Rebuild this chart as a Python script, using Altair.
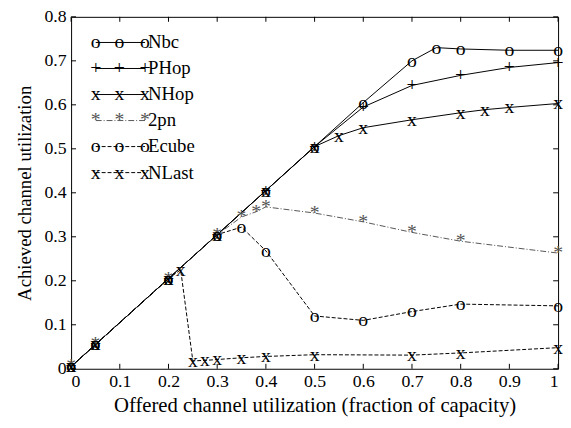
import altair as alt
import pandas as pd

# ---------------- data ----------------
nbc_x = [0, 0.05, 0.2, 0.3, 0.4, 0.5, 0.6, 0.7, 0.75, 0.8, 0.9, 1.0]
nbc_y = [0.005, 0.055, 0.205, 0.305, 0.405, 0.505, 0.605, 0.700, 0.730, 0.727, 0.724, 0.724]

phop_x = [0, 0.05, 0.2, 0.3, 0.4, 0.5, 0.6, 0.7, 0.8, 0.9, 1.0]
phop_y = [0.005, 0.055, 0.205, 0.305, 0.405, 0.505, 0.595, 0.644, 0.667, 0.685, 0.696]

nhop_x = [0, 0.05, 0.2, 0.3, 0.4, 0.5, 0.55, 0.6, 0.7, 0.8, 0.85, 0.9, 1.0]
nhop_y = [0.005, 0.055, 0.205, 0.305, 0.405, 0.505, 0.530, 0.548, 0.566, 0.582, 0.589, 0.594, 0.603]

twopn_x = [0, 0.05, 0.2, 0.3, 0.35, 0.38, 0.4, 0.5, 0.6, 0.7, 0.8, 1.0]
twopn_y = [0.005, 0.055, 0.205, 0.305, 0.345, 0.357, 0.368, 0.354, 0.334, 0.310, 0.290, 0.263]

ecube_x = [0, 0.05, 0.2, 0.3, 0.35, 0.4, 0.5, 0.6, 0.7, 0.8, 1.0]
ecube_y = [0.005, 0.055, 0.205, 0.305, 0.322, 0.268, 0.120, 0.110, 0.130, 0.147, 0.143]

nlast_x = [0, 0.05, 0.2, 0.225, 0.25, 0.275, 0.3, 0.35, 0.4, 0.5, 0.7, 0.8, 1.0]
nlast_y = [0.005, 0.055, 0.205, 0.225, 0.018, 0.019, 0.021, 0.025, 0.028, 0.032, 0.031, 0.036, 0.048]

series_names = ["Nbc", "PHop", "NHop", "2pn", "Ecube", "NLast"]
series_x = [nbc_x, phop_x, nhop_x, twopn_x, ecube_x, nlast_x]
series_y = [nbc_y, phop_y, nhop_y, twopn_y, ecube_y, nlast_y]

x_ticks = [0, 0.1, 0.2, 0.3, 0.4, 0.5, 0.6, 0.7, 0.8, 0.9, 1.0]
y_ticks = [0, 0.1, 0.2, 0.3, 0.4, 0.5, 0.6, 0.7, 0.8]

x_title = "Offered channel utilization (fraction of capacity)"
y_title = "Achieved channel utilization"

# ---------------- styles ----------------
glyphs = {"Nbc": "o", "PHop": "+", "NHop": "x", "2pn": "*", "Ecube": "o", "NLast": "x"}
colors = {"Nbc": "#000", "PHop": "#000", "NHop": "#000", "2pn": "#555", "Ecube": "#000", "NLast": "#000"}
dashes = {"Nbc": None, "PHop": None, "NHop": None, "2pn": [6, 2, 1, 2], "Ecube": [4, 2], "NLast": [4, 2]}

W, H = 494, 357
FONT = "Liberation Serif"
GS = 20  # glyph font size

xscale = alt.Scale(domain=[0, 1], nice=False, zero=False)
yscale = alt.Scale(domain=[0, 0.8], nice=False, zero=False)
xaxis = alt.Axis(values=x_ticks, format="~g", ticks=False, domain=False, grid=False,
                 labelPadding=4, title=x_title, titlePadding=4, titleFontSize=21)
yaxis = alt.Axis(values=y_ticks, format="~g", ticks=False, domain=False, grid=False,
                 labelPadding=5, title=y_title, titlePadding=10, titleFontSize=19)

def X(f):
    return alt.X(f, type="quantitative", scale=xscale, axis=xaxis)

def Y(f):
    return alt.Y(f, type="quantitative", scale=yscale, axis=yaxis)

layers = []

# inward ticks
xt = pd.DataFrame({"v": x_ticks})
yt = pd.DataFrame({"v": y_ticks})
TL = 5
layers.append(alt.Chart(xt).mark_rule(color="#000", strokeWidth=1).encode(
    x=X("v"), y=alt.value(H), y2=alt.value(H - TL)))
layers.append(alt.Chart(xt).mark_rule(color="#000", strokeWidth=1).encode(
    x=X("v"), y=alt.value(0), y2=alt.value(TL)))
layers.append(alt.Chart(yt).mark_rule(color="#000", strokeWidth=1).encode(
    y=Y("v"), x=alt.value(0), x2=alt.value(TL)))
layers.append(alt.Chart(yt).mark_rule(color="#000", strokeWidth=1).encode(
    y=Y("v"), x=alt.value(W), x2=alt.value(W - TL)))

# series
for name, xs, ys in zip(series_names, series_x, series_y):
    df = pd.DataFrame({"x": xs, "y": ys, "o": list(range(len(xs)))})
    lk = dict(color=colors[name], strokeWidth=1)
    if dashes[name]:
        lk["strokeDash"] = dashes[name]
    layers.append(alt.Chart(df).mark_line(**lk).encode(x=X("x"), y=Y("y"), order="o:Q"))
    layers.append(alt.Chart(df).mark_text(text=glyphs[name], font=FONT, fontSize=GS,
                                          align="center", baseline="middle",
                                          color=colors[name]).encode(x=X("x"), y=Y("y")))

# legend (top-left inside plot)
one = pd.DataFrame({"a": [0]})
LX = [25, 49, 75]
for i, name in enumerate(series_names):
    py = 26 + 26.4 * i
    lk = dict(color=colors[name], strokeWidth=1)
    if dashes[name]:
        lk["strokeDash"] = dashes[name]
    layers.append(alt.Chart(one).mark_rule(**lk).encode(
        x=alt.value(LX[0]), x2=alt.value(LX[2]), y=alt.value(py)))
    for px in LX:
        layers.append(alt.Chart(one).mark_text(text=glyphs[name], font=FONT, fontSize=GS,
                                               align="center", baseline="middle",
                                               color=colors[name]).encode(
            x=alt.value(px), y=alt.value(py)))
    layers.append(alt.Chart(one).mark_text(text=name, font=FONT, fontSize=19,
                                           align="left", baseline="middle",
                                           color="#000").encode(
        x=alt.value(LX[2] + 3), y=alt.value(py)))

chart = alt.layer(*layers).properties(
    width=W, height=H,
    autosize=alt.AutoSizeParams(type="none"),
    padding={"left": 64, "top": 6, "right": 5, "bottom": 49},
).configure_view(stroke="#000", strokeWidth=1).configure_axis(
    labelFont=FONT, labelFontSize=18, labelColor="#000",
    titleFont=FONT, titleColor="#000", titleFontWeight="normal",
)

chart.save("out.html", embed_options={"renderer": "svg", "actions": False})
